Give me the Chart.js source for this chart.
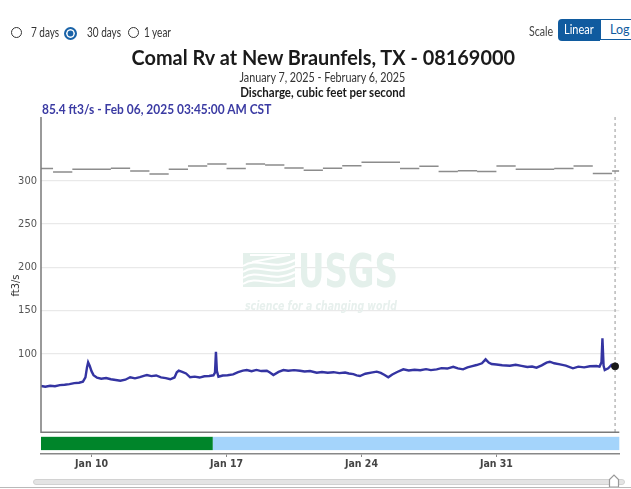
<!DOCTYPE html>
<html>
<head>
<meta charset="utf-8">
<script src="https://cdn.jsdelivr.net/npm/chart.js@4.4.1/dist/chart.umd.min.js"></script>
<style>
  html, body { margin: 0; padding: 0; background: #fff; overflow: hidden; }
  #wrap { position: relative; width: 631px; height: 489px; font-family: Lato, "Open Sans", sans-serif; color: #222; }
  #chart { position: absolute; left: 0; top: 0; }
  .abs { position: absolute; white-space: nowrap; }
  .sq { display: inline-block; transform-origin: left center; }
  .mid { position: absolute; left: 0; width: 631px; text-align: center; white-space: nowrap; }
  .mid span { display: inline-block; transform-origin: center center; }
  .radio { position: absolute; top: 26.5px; width: 9.5px; height: 9.5px; border: 1.8px solid #333; border-radius: 50%; background: #fff; }
  .radio.on { border: 2px solid #1a63a8; width: 9px; height: 9px; background: #1a63a8; box-shadow: inset 0 0 0 1.6px #fff; }
  .lbl { font-size: 12.5px; top: 24.5px; color: #333; }
  .lbl span { transform: scaleX(0.8); }
  #btnLinear { left: 558px; top: 19px; width: 42px; height: 22px; background: #105b9f; color: #fff; border-radius: 4px 0 0 4px; font-size: 12.5px; line-height: 22px; text-align: center; }
  #btnLinear span { transform: scaleX(0.88); transform-origin: center; }
  #btnLog { left: 600px; top: 19px; width: 36px; height: 19px; border: 1.5px solid #105b9f; background: #fff; color: #105b9f; font-size: 12.5px; line-height: 19px; padding-left: 9px; box-sizing: content-box; }
  #track { left: 33px; top: 479px; width: 590px; height: 4px; background: #e4e4e4; border: 1px solid #d2d2d2; border-radius: 3px; }
  #baseLine { left: 0; top: 486.5px; width: 631px; height: 1px; background: #b9b9b9; }
</style>
</head>
<body>
<div id="wrap">
  <canvas id="chart" width="631" height="489"></canvas>

  <div class="radio" style="left:10.5px"></div>
  <div class="abs lbl" style="left:30.5px"><span class="sq">7 days</span></div>
  <div class="radio on" style="left:64px"></div>
  <div class="abs lbl" style="left:86.5px"><span class="sq">30 days</span></div>
  <div class="radio" style="left:127.5px"></div>
  <div class="abs lbl" style="left:144px"><span class="sq">1 year</span></div>

  <div class="abs" style="left:529px; top:23.5px; font-size:12.5px; color:#444"><span class="sq" style="transform:scaleX(0.85)">Scale</span></div>
  <div class="abs" id="btnLinear"><span class="sq">Linear</span></div>
  <div class="abs" id="btnLog">Log</div>

  <div class="mid" style="left:7.5px; top:47px; font-size:21.5px; line-height:21px; font-weight:700; color:#1a1a1a"><span style="transform:scaleX(0.925)">Comal Rv at New Braunfels, TX - 08169000</span></div>
  <div class="mid" style="left:6.5px; top:72px; font-size:12.5px; line-height:12px; color:#333"><span style="transform:scaleX(0.86)">January 7, 2025 - February 6, 2025</span></div>
  <div class="mid" style="left:7px; top:87px; font-size:12.5px; line-height:12px; font-weight:700; color:#1a1a1a"><span style="transform:scaleX(0.92)">Discharge, cubic feet per second</span></div>
  <div class="abs" style="left:42px; top:102.5px; font-size:13.5px; line-height:13px; font-weight:700; color:#3b3ba3"><span class="sq" style="transform:scaleX(0.885)">85.4 ft3/s - Feb 06, 2025 03:45:00 AM CST</span></div>

  <div class="abs" id="track"></div>
  <svg class="abs" style="left:608px; top:474px" width="12" height="14" viewBox="0 0 12 14">
    <path d="M1.5 13 L1.5 5.5 L6 1 L10.5 5.5 L10.5 13 Z" fill="#fff" stroke="#999" stroke-width="1.2"/>
  </svg>
  <div class="abs" id="baseLine"></div>
</div>

<script>
// x values are days counted from Jan 1, 2025 (Jan 31 = 31, Feb 6 = 37)
const xMin = 7.375;
const xMax = 37.375;
const xTicks = [10, 17, 24, 31];
const xTickLabels = ['Jan 10', 'Jan 17', 'Jan 24', 'Jan 31'];

const yMin = -16.1;
const yMax = 374;
const plotFloor = 9;
const yTicks = [100, 150, 200, 250, 300];

// discharge, ft3/s
const dischargeDays = [
  7.38, 7.6, 7.85, 8.1, 8.35, 8.6, 8.85, 9.1, 9.35, 9.55, 9.68, 9.76, 9.82, 9.9, 10.0, 10.1, 10.28, 10.5, 10.75,
  11.0, 11.25, 11.49, 11.75, 12.0, 12.25, 12.5, 12.75, 12.87, 13.1, 13.35, 13.6, 13.85, 14.08, 14.3, 14.42, 14.52,
  14.7, 14.9, 15.11, 15.35, 15.6, 15.85, 16.1, 16.32, 16.4, 16.45, 16.5, 16.58, 16.8, 17.05, 17.34, 17.6, 17.85,
  18.05, 18.3, 18.55, 18.8, 19.09, 19.25, 19.43, 19.7, 19.95, 20.2, 20.5, 20.81, 21.05, 21.33, 21.68, 21.95, 22.25,
  22.55, 22.85, 23.15, 23.35, 23.58, 23.75, 23.92, 24.2, 24.5, 24.79, 25.0, 25.2, 25.39, 25.6, 25.85, 26.17, 26.45,
  26.75, 27.05, 27.35, 27.6, 27.9, 28.15, 28.45, 28.76, 29.0, 29.27, 29.5, 29.75, 29.97, 30.25, 30.44, 30.6, 30.75,
  31.0, 31.3, 31.7, 32.0, 32.3, 32.6, 32.85, 33.08, 33.35, 33.6, 33.77, 34.0, 34.3, 34.6, 34.97, 35.25, 35.55,
  35.85, 36.19, 36.35, 36.45, 36.5, 36.56, 36.62, 36.8, 36.96, 37.05, 37.156
];
const dischargeValues = [
  62.6, 61.8, 62.9, 62.4, 63.6, 64.1, 64.8, 65.9, 66.4, 67.6, 72.5, 84, 90.0, 86, 79.5, 75.2, 72.2, 71.1, 71.8,
  70.4, 69.6, 68.7, 69.9, 72.7, 71.5, 72.9, 74.6, 75.3, 74.1, 74.8, 72.6, 71.8, 70.4, 72.5, 78.5, 80.3,
  78.9, 77.1, 72.7, 73.5, 72.4, 73.9, 74.2, 75.0, 78, 102.3, 80, 73.4, 74.8, 75.1, 76.1, 78.6, 80.4,
  81.1, 79.8, 81.2, 79.9, 80.3, 78.2, 75.3, 78.9, 81.1, 80.2, 81.0, 80.3, 79.4, 80.0, 78.0, 78.8, 77.9,
  78.6, 77.5, 78.2, 77.1, 76.3, 75.0, 74.2, 76.8, 78.1, 79.2, 77.8, 75.4, 72.7, 75.9, 78.8, 81.9, 80.6,
  81.4, 80.9, 82.1, 81.0, 81.9, 83.3, 82.8, 84.9, 83.0, 81.9, 84.1, 85.6, 86.9, 88.9, 93.5, 89.8, 88.1,
  87.5, 86.6, 86.1, 87.2, 85.9, 84.6, 85.1, 83.8, 86.5, 89.7, 90.7, 88.9, 87.6, 86.2, 83.1, 85.0, 84.2,
  85.4, 85.8, 85.1, 90, 117.8, 86, 81.1, 83.2, 86.9, 84.2, 85.4
];

// daily statistic (gray step line), one value per calendar day from Jan 7
const statDays = [7, 8, 9, 10, 11, 12, 13, 14, 15, 16, 17, 18, 19, 20, 21, 22, 23, 24, 25, 26, 27, 28, 29, 30, 31,
  32, 33, 34, 35, 36, 37];
const statValues = [314.3, 310.4, 313.5, 313.5, 314.7, 311.6, 308.1, 313.5, 317.4, 319.7, 314.3, 319.7, 318.5, 315,
  312.3, 314.7, 317.7, 321.6, 321.6, 314.3, 317, 310.8, 311.9, 310.8, 317.4, 313.5, 313.5, 314.3, 317.4, 308.5, 311.6];

// data approval periods
const approvalLabels = ['Approved', 'Provisional'];
const approvalStart = [7.375, 16.29];
const approvalEnd = [16.29, 37.375];
const approvalColors = ['#00852a', '#a4d4fb'];

const narrow = '"Liberation Sans Narrow", "DejaVu Sans Condensed", "Arial Narrow", sans-serif';

function buildStatPoints() {
  const pts = [];
  statDays.forEach(function(d, i) {
    const s = Math.max(d, xMin), e = Math.min(d + 1, xMax);
    pts.push({ x: s, y: statValues[i] });
    pts.push({ x: e, y: statValues[i] });
    pts.push({ x: e, y: null });
  });
  return pts;
}

const decor = {
  id: 'decor',
  beforeDatasetsDraw(chart) {
    const ctx = chart.ctx, x = chart.scales.x, y = chart.scales.y;
    ctx.save();
    // USGS watermark
    ctx.fillStyle = '#e4f0eb';
    ctx.fillRect(243, 253, 52, 34);
    ctx.strokeStyle = '#fff';
    ctx.lineWidth = 2;
    for (let k = 0; k < 4; k++) {
      const oy = 262 + k * 6;
      ctx.beginPath();
      ctx.moveTo(243, oy + 4);
      ctx.bezierCurveTo(258, oy - 6, 272, oy + 10, 295, oy - 2);
      ctx.stroke();
    }
    ctx.beginPath();
    ctx.moveTo(250, 255); ctx.lineTo(290, 255);
    ctx.moveTo(288, 255); ctx.lineTo(252, 262);
    ctx.stroke();
    ctx.font = 'bold 46px ' + narrow;
    ctx.textBaseline = 'alphabetic';
    let w = ctx.measureText('USGS').width;
    ctx.translate(298, 287);
    ctx.scale(100 / w, 1);
    ctx.fillText('USGS', 0, 0);
    ctx.setTransform(1, 0, 0, 1, 0, 0);
    ctx.fillStyle = '#e7f0ed';
    ctx.font = 'italic bold 12.5px ' + narrow;
    w = ctx.measureText('science for a changing world').width;
    ctx.translate(245, 310);
    ctx.scale(152 / w, 1);
    ctx.fillText('science for a changing world', 0, 0);
    ctx.setTransform(1, 0, 0, 1, 0, 0);

    // dashed marker at the latest value
    const lx = x.getPixelForValue(dischargeDays[dischargeDays.length - 1]);
    ctx.strokeStyle = '#a8a8a8';
    ctx.lineWidth = 1.2;
    ctx.setLineDash([3, 3]);
    ctx.beginPath();
    ctx.moveTo(lx, chart.chartArea.top);
    ctx.lineTo(lx, y.getPixelForValue(plotFloor));
    ctx.stroke();
    ctx.restore();
  },
  afterDraw(chart) {
    const ctx = chart.ctx, x = chart.scales.x, y = chart.scales.y, ca = chart.chartArea;
    const floorPx = y.getPixelForValue(plotFloor);
    ctx.save();
    ctx.strokeStyle = '#7a7a7a';
    ctx.lineWidth = 1.5;
    ctx.beginPath();
    ctx.moveTo(ca.left, ca.top);
    ctx.lineTo(ca.left, floorPx);
    ctx.lineTo(ca.right, floorPx);
    ctx.stroke();
    approvalLabels.forEach(function(lab, i) {
      const a = x.getPixelForValue(approvalStart[i]), b = x.getPixelForValue(approvalEnd[i]);
      ctx.fillStyle = approvalColors[i];
      ctx.fillRect(a, floorPx + 4.5, b - a, 13.3);
    });
    ctx.restore();
  }
};

const chart = new Chart(document.getElementById('chart'), {
  type: 'line',
  data: {
    datasets: [
      {
        label: 'Discharge',
        data: dischargeDays.map(function(d, i) { return { x: d, y: dischargeValues[i] }; }),
        borderColor: '#3434a2',
        borderWidth: 2.4,
        pointRadius: 0,
        tension: 0,
        order: 2
      },
      {
        label: 'Daily statistic',
        data: buildStatPoints(),
        borderColor: '#8c8c8c',
        borderWidth: 1.5,
        pointRadius: 0,
        spanGaps: false,
        order: 3
      },
      {
        label: 'Latest',
        data: [{ x: dischargeDays[dischargeDays.length - 1], y: dischargeValues[dischargeValues.length - 1] }],
        showLine: false,
        pointRadius: 3.5,
        pointBackgroundColor: '#1b1b1b',
        pointBorderColor: '#1b1b1b',
        order: 1
      }
    ]
  },
  options: {
    responsive: false,
    animation: false,
    layout: { padding: { top: 117, right: 11.7, left: 0, bottom: 0 } },
    plugins: { legend: { display: false }, tooltip: { enabled: false } },
    scales: {
      x: {
        type: 'linear',
        min: xMin,
        max: xMax,
        afterBuildTicks: function(scale) { scale.ticks = xTicks.map(function(v) { return { value: v }; }); },
        afterFit: function(scale) { scale.height = 35; },
        ticks: {
          autoSkip: false,
          maxRotation: 0,
          padding: 1,
          color: '#444',
          font: { family: narrow, size: 10.5, weight: 'bold' },
          callback: function(v, i) { return xTickLabels[i]; }
        },
        grid: { drawOnChartArea: false, drawTicks: true, tickLength: 3, color: '#888' },
        border: { display: true, color: '#888', width: 1.5 }
      },
      y: {
        type: 'linear',
        min: yMin,
        max: yMax,
        afterBuildTicks: function(scale) { scale.ticks = yTicks.map(function(v) { return { value: v }; }); },
        afterFit: function(scale) { scale.width = 41; },
        ticks: { padding: 4, color: '#555', font: { family: narrow, size: 11 } },
        grid: { color: '#e9e9e9', lineWidth: 1.3, drawTicks: false },
        border: { display: false },
        title: { display: true, text: 'ft3/s', color: '#333', padding: { top: 10, bottom: 0 }, font: { family: narrow, size: 11 } }
      }
    }
  },
  plugins: [decor]
});
</script>
</body>
</html>
